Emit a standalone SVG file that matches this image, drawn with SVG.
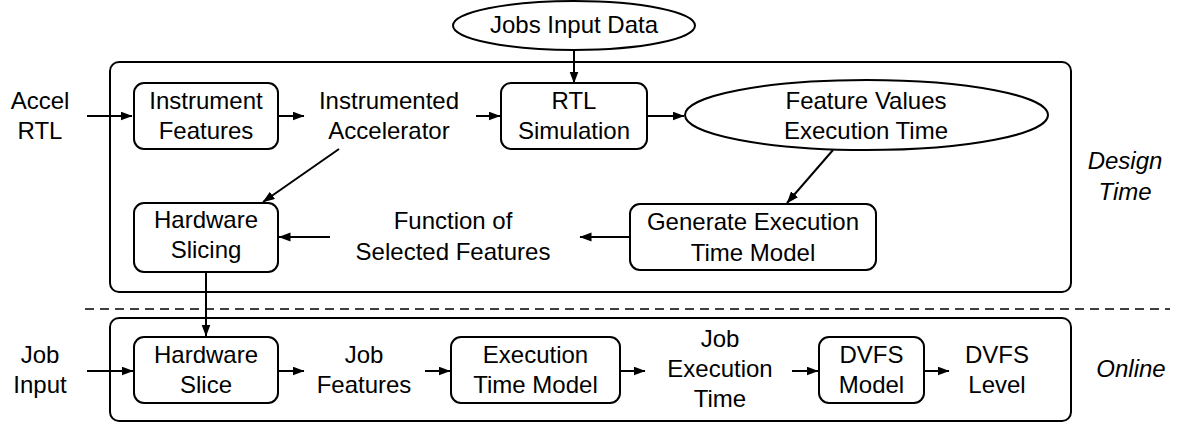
<svg xmlns="http://www.w3.org/2000/svg" width="1181" height="423" viewBox="0 0 1181 423">
<defs>
<style>
.box{fill:#fff;stroke:#000;stroke-width:2}
.frame{fill:none;stroke:#000;stroke-width:2}
.t{font-family:"Liberation Sans",Arial,Helvetica,sans-serif;font-size:24px;fill:#000;text-anchor:middle}
.i{font-style:italic}
.c{fill:none;stroke:#000;stroke-width:2}
</style>
<marker id="ah" markerUnits="userSpaceOnUse" markerWidth="13" markerHeight="10" refX="11.5" refY="4.5" orient="auto">
<path d="M0,0 L12,4.5 L0,9 z" fill="#000"/>
</marker>
</defs>
<rect width="1181" height="423" fill="#fff"/>

<g id="design-frame"><rect class="frame" x="110" y="62" width="961" height="230" rx="9"/></g>
<g id="online-frame"><rect class="frame" x="110" y="318" width="961" height="103" rx="9"/></g>
<g id="separator"><line x1="85" y1="309" x2="1170" y2="309" stroke="#000" stroke-width="1.5" stroke-dasharray="9,6"/></g>

<g id="connectors">
<path class="c" marker-end="url(#ah)" d="M87,116 H132"/>
<path class="c" marker-end="url(#ah)" d="M278,116 H304"/>
<path class="c" marker-end="url(#ah)" d="M476,116 H500"/>
<path class="c" marker-end="url(#ah)" d="M574,50 V83"/>
<path class="c" marker-end="url(#ah)" d="M647,116 H684"/>
<path class="c" marker-end="url(#ah)" d="M339,149 L263,202"/>
<path class="c" marker-end="url(#ah)" d="M833,150 L787,203"/>
<path class="c" marker-end="url(#ah)" d="M330,237 H279"/>
<path class="c" marker-end="url(#ah)" d="M630,237 H580"/>
<path class="c" marker-end="url(#ah)" d="M206,272 V336"/>
<path class="c" marker-end="url(#ah)" d="M87,371 H133"/>
<path class="c" marker-end="url(#ah)" d="M278,371 H304"/>
<path class="c" marker-end="url(#ah)" d="M425,371 H450"/>
<path class="c" marker-end="url(#ah)" d="M620,371 H645"/>
<path class="c" marker-end="url(#ah)" d="M792,371 H818"/>
<path class="c" marker-end="url(#ah)" d="M924,371 H949"/>
</g>

<g id="jobs-input-data">
<ellipse class="box" cx="574" cy="25.5" rx="121" ry="24.5"/>
<text class="t" x="574" y="33">Jobs Input Data</text>
</g>
<g id="accel-rtl">
<text class="t" x="40" y="109">Accel</text>
<text class="t" x="40" y="139">RTL</text>
</g>
<g id="instrument-features">
<rect class="box" x="134" y="83" width="144" height="66" rx="10"/>
<text class="t" x="206" y="109">Instrument</text>
<text class="t" x="206" y="139">Features</text>
</g>
<g id="instrumented-accelerator">
<text class="t" x="389" y="109">Instrumented</text>
<text class="t" x="389" y="139">Accelerator</text>
</g>
<g id="rtl-simulation">
<rect class="box" x="501" y="83" width="146" height="66" rx="10"/>
<text class="t" x="574" y="109">RTL</text>
<text class="t" x="574" y="139">Simulation</text>
</g>
<g id="feature-values">
<ellipse class="box" cx="866.5" cy="115" rx="181.5" ry="35"/>
<text class="t" x="866" y="109">Feature Values</text>
<text class="t" x="866" y="139">Execution Time</text>
</g>
<g id="hardware-slicing">
<rect class="box" x="134" y="203" width="144" height="69" rx="10"/>
<text class="t" x="206" y="228">Hardware</text>
<text class="t" x="206" y="258">Slicing</text>
</g>
<g id="function-of-selected-features">
<text class="t" x="453" y="229">Function of</text>
<text class="t" x="453" y="260">Selected Features</text>
</g>
<g id="generate-execution-time-model">
<rect class="box" x="630" y="204" width="246" height="66" rx="10"/>
<text class="t" x="753" y="230">Generate Execution</text>
<text class="t" x="753" y="261">Time Model</text>
</g>
<g id="design-time-label">
<text class="t i" x="1125" y="169">Design</text>
<text class="t i" x="1125" y="200">Time</text>
</g>

<g id="job-input">
<text class="t" x="40" y="363">Job</text>
<text class="t" x="40" y="393">Input</text>
</g>
<g id="hardware-slice">
<rect class="box" x="134" y="337" width="144" height="66" rx="10"/>
<text class="t" x="206" y="363">Hardware</text>
<text class="t" x="206" y="393">Slice</text>
</g>
<g id="job-features">
<text class="t" x="364" y="363">Job</text>
<text class="t" x="364" y="393">Features</text>
</g>
<g id="execution-time-model">
<rect class="box" x="451" y="337" width="169" height="66" rx="10"/>
<text class="t" x="535.5" y="363">Execution</text>
<text class="t" x="535.5" y="393">Time Model</text>
</g>
<g id="job-execution-time">
<text class="t" x="720" y="347">Job</text>
<text class="t" x="720" y="377">Execution</text>
<text class="t" x="720" y="407">Time</text>
</g>
<g id="dvfs-model">
<rect class="box" x="819" y="337" width="105" height="66" rx="10"/>
<text class="t" x="871.5" y="363">DVFS</text>
<text class="t" x="871.5" y="393">Model</text>
</g>
<g id="dvfs-level">
<text class="t" x="997" y="363">DVFS</text>
<text class="t" x="997" y="393">Level</text>
</g>
<g id="online-label">
<text class="t i" x="1131" y="377">Online</text>
</g>
</svg>
